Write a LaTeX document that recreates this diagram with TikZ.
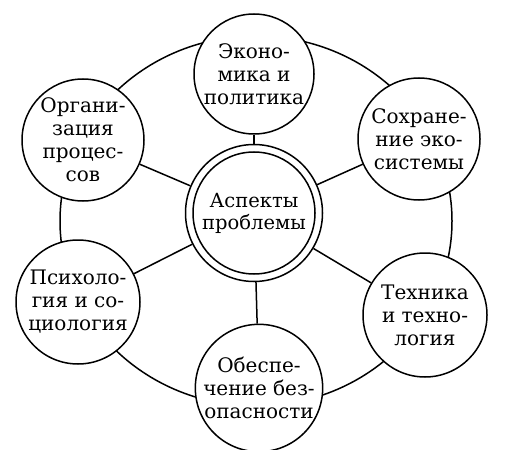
\documentclass[tikz,border=0pt]{standalone}
\usepackage{fontspec}
\setmainfont{DejaVu Serif}
\usepackage{tikz}

\begin{document}
\begin{tikzpicture}[x=1pt, y=-1pt, line width=1.5pt]
    % Node Styles
    \tikzstyle{aspect} = [circle, draw, fill=white, minimum size=122pt, inner sep=0pt, align=center, font=\fontsize{20}{23}\selectfont]
    \tikzstyle{hub} = [circle, draw, fill=white, minimum size=122pt, inner sep=0pt, align=center, font=\fontsize{19.5}{22}\selectfont]
    \tikzstyle{ring} = [circle, draw, minimum size=137pt, inner sep=0pt]
    \tikzstyle{spoke} = [draw]

    \useasboundingbox (0,0) rectangle (505,449);

    % Outer ring
    \draw (256,221) ellipse [x radius=196, y radius=185];

    % Centre
    \node [ring] (ring) at (254,213) {};
    \node [hub] (hub) at (254,213) {Аспекты\\проблемы};

    % Aspects
    \node [aspect, minimum size=120pt] (econ) at (254,74) {Эконо-\\мика и\\политика};
    \node [aspect] (eco) at (419,139) {Сохране-\\ние эко-\\системы};
    \node [aspect, minimum size=124pt] (tech) at (425,315) {Техника\\и техно-\\логия};
    \node [aspect] (safe) at (259,388) {Обеспе-\\чение без-\\опасности};
    \node [aspect, minimum size=124pt] (psych) at (78,302) {Психоло-\\гия и со-\\циология};
    \node [aspect] (org) at (83,140) {Органи-\\зация\\процес-\\сов};

    % Spokes
    \foreach \n in {econ, eco, tech, safe, psych, org}
        \path [spoke] (ring) -- (\n);
\end{tikzpicture}
\end{document}
